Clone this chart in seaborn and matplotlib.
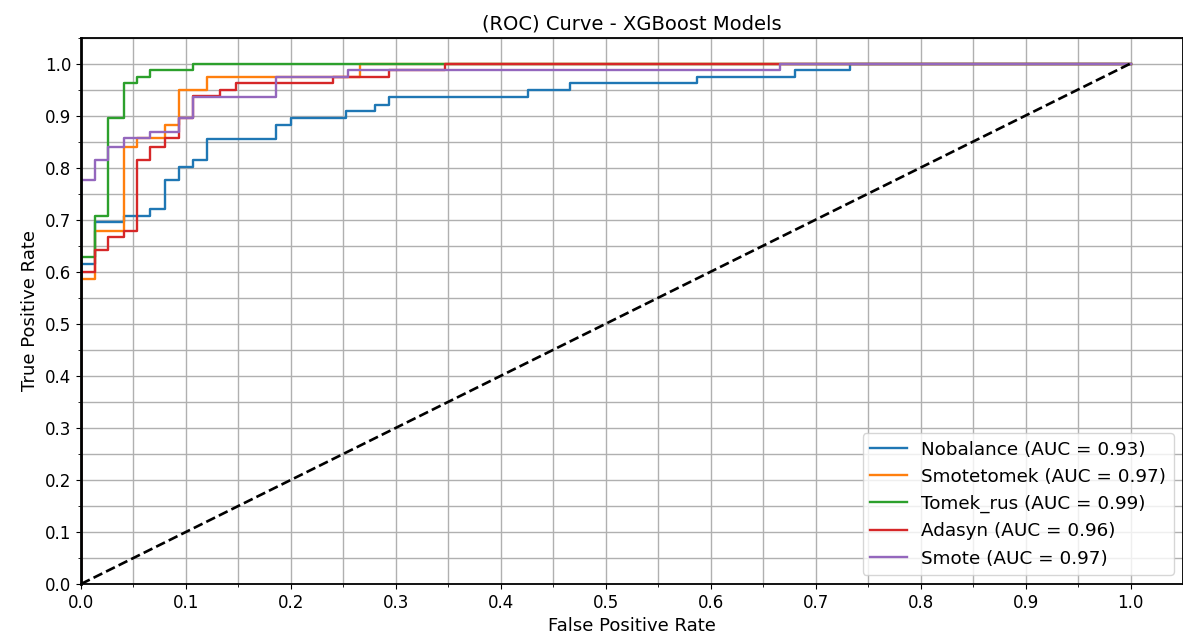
import numpy as np
import pandas as pd
import matplotlib
matplotlib.use("Agg")
import matplotlib.pyplot as plt
from matplotlib.ticker import MultipleLocator
import seaborn as sns

models = ["Nobalance", "Smotetomek", "Tomek_rus", "Adasyn", "Smote"]
aucs = [0.93, 0.97, 0.99, 0.96, 0.97]

fpr_nobalance = [0, 0, 0.0133, 0.0133, 0.0406, 0.0406, 0.066, 0.066, 0.08, 0.08, 0.0936, 0.0936,
                 0.107, 0.107, 0.12, 0.12, 0.186, 0.186, 0.2, 0.2, 0.2525, 0.2525, 0.28, 0.28,
                 0.293, 0.293, 0.426, 0.426, 0.466, 0.466, 0.587, 0.587, 0.68, 0.68, 0.733, 0.733, 1.0]
tpr_nobalance = [0, 0.614, 0.614, 0.695, 0.695, 0.708, 0.708, 0.721, 0.721, 0.776, 0.776, 0.801,
                 0.801, 0.814, 0.814, 0.855, 0.855, 0.882, 0.882, 0.895, 0.895, 0.908, 0.908, 0.921,
                 0.921, 0.935, 0.935, 0.949, 0.949, 0.962, 0.962, 0.974, 0.974, 0.987, 0.987, 1.0, 1.0]

fpr_smotetomek = [0, 0, 0.0133, 0.0133, 0.0406, 0.0406, 0.053, 0.053, 0.08, 0.08, 0.0936, 0.0936,
                  0.12, 0.12, 0.2655, 0.2655, 1.0]
tpr_smotetomek = [0, 0.586, 0.586, 0.679, 0.679, 0.840, 0.840, 0.856, 0.856, 0.882, 0.882, 0.949,
                  0.949, 0.974, 0.974, 1.0, 1.0]

fpr_tomek = [0, 0, 0.0133, 0.0133, 0.026, 0.026, 0.0406, 0.0406, 0.053, 0.053, 0.066, 0.066,
             0.107, 0.107, 1.0]
tpr_tomek = [0, 0.628, 0.628, 0.708, 0.708, 0.895, 0.895, 0.962, 0.962, 0.974, 0.974, 0.987,
             0.987, 1.0, 1.0]

fpr_adasyn = [0, 0, 0.0133, 0.0133, 0.026, 0.026, 0.0406, 0.0406, 0.053, 0.053, 0.066, 0.066,
              0.08, 0.08, 0.0936, 0.0936, 0.107, 0.107, 0.132, 0.132, 0.148, 0.148, 0.24, 0.24,
              0.293, 0.293, 0.347, 0.347, 1.0]
tpr_adasyn = [0, 0.600, 0.600, 0.641, 0.641, 0.666, 0.666, 0.679, 0.679, 0.814, 0.814, 0.840,
              0.840, 0.856, 0.856, 0.895, 0.895, 0.937, 0.937, 0.949, 0.949, 0.962, 0.962, 0.974,
              0.974, 0.987, 0.987, 1.0, 1.0]

fpr_smote = [0, 0, 0.0133, 0.0133, 0.026, 0.026, 0.0406, 0.0406, 0.066, 0.066, 0.0936, 0.0936,
             0.107, 0.107, 0.186, 0.186, 0.254, 0.254, 0.666, 0.666, 1.0]
tpr_smote = [0, 0.776, 0.776, 0.814, 0.814, 0.840, 0.840, 0.856, 0.856, 0.869, 0.869, 0.895,
             0.895, 0.936, 0.936, 0.974, 0.974, 0.987, 0.987, 1.0, 1.0]

fprs = [fpr_nobalance, fpr_smotetomek, fpr_tomek, fpr_adasyn, fpr_smote]
tprs = [tpr_nobalance, tpr_smotetomek, tpr_tomek, tpr_adasyn, tpr_smote]

frames = []
for name, auc, f, t in zip(models, aucs, fprs, tprs):
    label = f"{name} (AUC = {auc:.2f})"
    frames.append(pd.DataFrame({"fpr": f, "tpr": t, "model": label}))
df = pd.concat(frames, ignore_index=True)
labels = [f"{n} (AUC = {a:.2f})" for n, a in zip(models, aucs)]

fig = plt.figure(figsize=(11.83, 6.42), dpi=100)
ax = fig.add_axes([81 / 1183, 58 / 642, 1102 / 1183, 546.5 / 642])

sns.lineplot(data=df, x="fpr", y="tpr", hue="model", hue_order=labels,
             palette=sns.color_palette("tab10", 5), estimator=None, sort=False,
             linewidth=1.7, ax=ax)
ax.plot([0, 1], [0, 1], "k--", linewidth=1.9)

ax.set_xlim(0, 1.05)
ax.set_ylim(0, 1.05)
ax.xaxis.set_major_locator(MultipleLocator(0.1))
ax.yaxis.set_major_locator(MultipleLocator(0.1))
ax.xaxis.set_minor_locator(MultipleLocator(0.05))
ax.yaxis.set_minor_locator(MultipleLocator(0.05))
ax.grid(True, which="both", color="#b0b0b0", linewidth=1)
ax.set_axisbelow(True)
ax.tick_params(axis="both", which="major", labelsize=12)
for side in ["bottom", "top", "right"]:
    ax.spines[side].set_linewidth(1.3)
    ax.spines[side].set_zorder(5)
ax.spines["left"].set_linewidth(2.0)
ax.spines["left"].set_zorder(5)

ax.set_xlabel("False Positive Rate", fontsize=13)
ax.set_ylabel("True Positive Rate", fontsize=13)
ax.set_title("(ROC) Curve - XGBoost Models", fontsize=14)

sns.move_legend(ax, "lower right", title=None, fontsize=13.2)

fig.savefig("out.png", dpi=100)
